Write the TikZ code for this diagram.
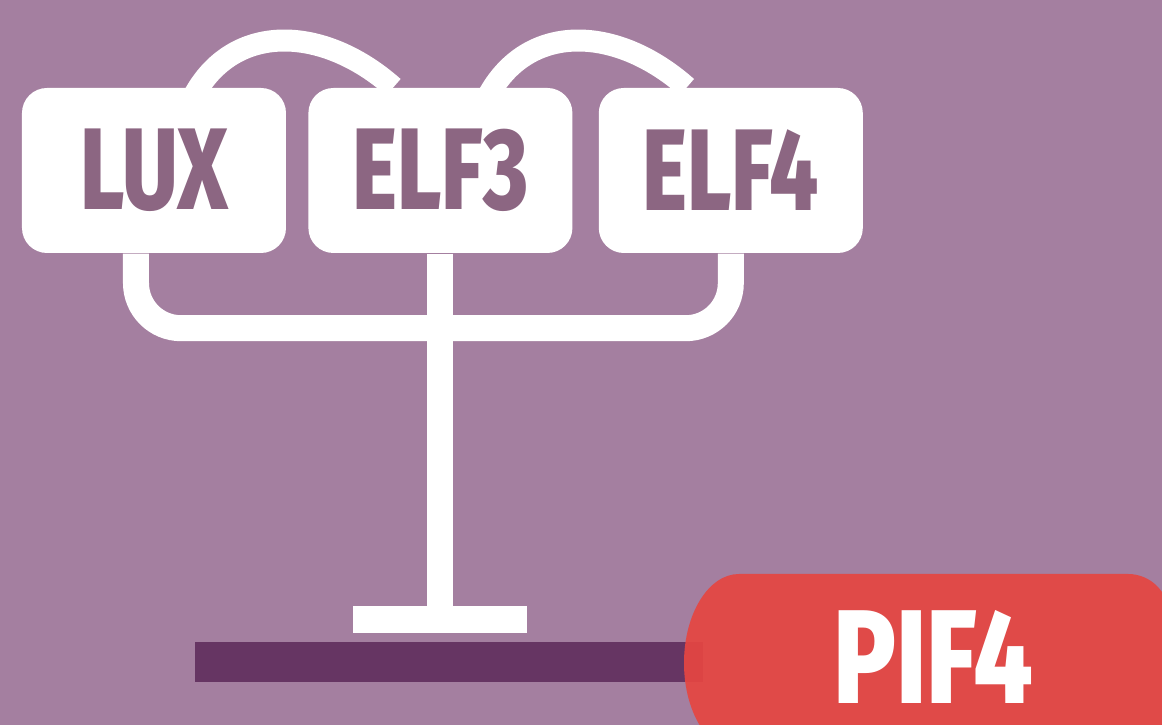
\documentclass[tikz,border=0pt]{standalone}
\usepackage{fontspec}
\setmainfont{Fira Sans}[BoldFont={Fira Sans ExtraBold}]
\usepackage{tikz}
\usetikzlibrary{positioning,backgrounds}

\definecolor{bgmauve}{HTML}{A47FA0}
\definecolor{labelmauve}{HTML}{8C6682}
\definecolor{groundpurple}{HTML}{663563}
\definecolor{pifred}{HTML}{E54642}
\newcommand{\genename}[2][0.74]{\scalebox{#1}[1]{\bfseries #2}}

\begin{document}
\begin{tikzpicture}[
  genebox/.style={fill=white, rounded corners=0.25cm, minimum width=2.64cm,
    minimum height=1.65cm, inner sep=0pt, text=labelmauve,
    font=\fontsize{33}{33}\selectfont},
  wire/.style={draw=white, line width=2.6mm},
  loopwire/.style={draw=white, line width=2.2mm}]
\useasboundingbox (0,0) rectangle (11.62,7.25);
\begin{scope}[on background layer]
  \fill[bgmauve] (0,0) rectangle (11.62,7.25);
\end{scope}
% the three gene boxes
\node[genebox] (lux) at (1.54,5.545) {\genename{LUX}};
\node[genebox, right=0.21cm of lux] (elf3) {\genename{ELF3}};
\node[genebox, right=0.25cm of elf3] (elf4) {\genename{ELF4}};
% stand and ground
\node[fill=white, minimum width=1.74cm, minimum height=0.27cm, inner sep=0pt,
  below=3.52cm of elf3] (base) {};
\node[fill=groundpurple, minimum width=5.085cm, minimum height=0.40cm,
  inner sep=0pt] (ground) at (4.49,0.63) {};
% PIF4 pill, runs off the page
\fill[pifred, opacity=0.93] (7.39,-0.27)
  arc[start angle=-90, end angle=-270, x radius=0.55, y radius=0.89]
  -- (11.28,1.51) arc[start angle=90, end angle=0, radius=0.41]
  -- (11.69,-0.27) -- cycle;
\node[text=white, inner sep=0pt, font=\fontsize{38}{38}\selectfont] (pif4)
  at (9.33,0.68) {\genename[0.78]{PIF4}};
% wires behind the boxes
\begin{scope}[on background layer]
  \draw[wire, rounded corners=0.45cm] ([xshift=-1.8mm]lux.south)
    -- ++(0,-0.745) -| (elf4.south);
  \draw[wire] (elf3.south) -- (base.north);
  \draw[loopwire] ([xshift=3.9mm,yshift=-1mm]lux.north)
    .. controls +(0.40,0.76) and +(-0.70,0.62) .. ([xshift=-4.7mm]elf3.north);
  \draw[loopwire] ([xshift=4.7mm,yshift=-1mm]elf3.north)
    .. controls +(0.40,0.76) and +(-0.70,0.62) .. ([xshift=-4.4mm]elf4.north);
\end{scope}
\end{tikzpicture}
\end{document}
